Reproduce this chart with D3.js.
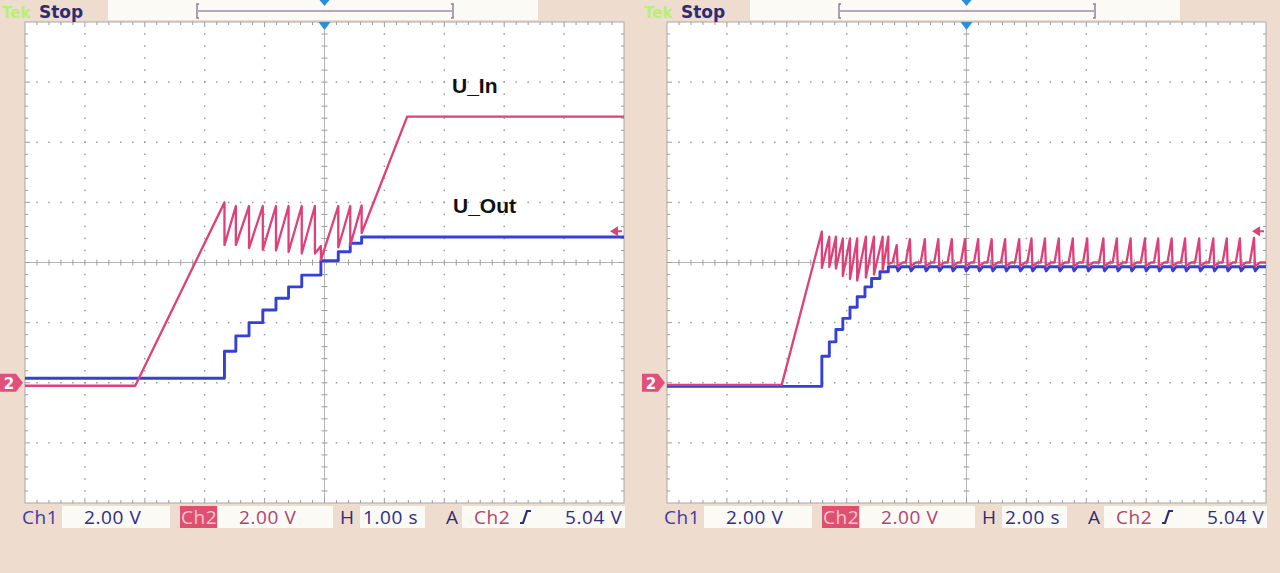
<!DOCTYPE html>
<html>
<head>
<meta charset="utf-8">
<script src="https://cdn.jsdelivr.net/npm/d3@7"></script>
<style>
  body { margin: 0; background: #eedccf; }
  svg { display: block; }
</style>
</head>
<body>
<svg id="scope" width="1280" height="573"></svg>
<script>
// ---- values (time in s, level in V) ----

// left capture, 1.00 s/div
const leftInPts = [
  [0, -0.1], [1.84, -0.1], [3.33, 6.0], [3.33, 4.58], [3.52, 5.88], [3.52, 4.58],
  [3.74, 5.88], [3.74, 4.48], [3.97, 5.88], [3.97, 4.42], [4.19, 5.88], [4.19, 4.4],
  [4.40, 5.88], [4.40, 4.35], [4.62, 5.88], [4.62, 4.3], [4.84, 5.88], [4.84, 4.3],
  [4.94, 4.55], [4.94, 4.08], [5.23, 5.88], [5.23, 4.5], [5.43, 5.88], [5.43, 4.58],
  [5.62, 5.9], [5.62, 4.98], [6.38, 8.85], [10, 8.85]
];
const leftOutTimes  = [0, 3.33, 3.52, 3.74, 3.97, 4.19, 4.40, 4.62, 4.94, 5.23, 5.43, 5.62];
const leftOutLevels = [0.15, 1.05, 1.56, 2.0, 2.42, 2.81, 3.19, 3.58, 4.06, 4.36, 4.64, 4.85];

// right capture, 2.00 s/div
const rightInPts = [
  [0, -0.07], [3.83, -0.07], [5.17, 5.03], [5.17, 3.82], [5.42, 4.86], [5.42, 3.85],
  [5.64, 4.86], [5.64, 3.8], [5.87, 4.8], [5.87, 3.55], [6.11, 4.8], [6.11, 3.45],
  [6.35, 4.8], [6.35, 3.4], [6.64, 4.86], [6.64, 3.5], [6.91, 4.86], [6.91, 3.6],
  [7.20, 4.86], [7.20, 3.75], [7.39, 4.86], [7.39, 3.95]
];
const rightSpikeTimes = [7.67, 8.11, 8.61, 9.06, 9.51, 9.95, 10.39, 10.84, 11.29, 11.76,
  12.17, 12.62, 13.08, 13.55, 14.03, 14.57, 15.02, 15.48, 15.96, 16.40, 16.85, 17.30,
  17.77, 18.24, 18.69, 19.13, 19.60];
const rightSpikePeaks = [4.58, 4.78, 4.78, 4.78, 4.78, 4.78, 4.78, 4.78, 4.78, 4.78,
  4.8, 4.8, 4.8, 4.8, 4.8, 4.8, 4.8, 4.8, 4.8, 4.8, 4.8, 4.8, 4.8, 4.8, 4.8, 4.8, 4.82];
const rightInBase = 4.0;
const rightOutTimes  = [0, 5.17, 5.42, 5.64, 5.87, 6.11, 6.35, 6.61, 6.83, 7.11, 7.39];
const rightOutLevels = [-0.12, 0.88, 1.36, 1.77, 2.14, 2.51, 2.86, 3.19, 3.47, 3.69, 3.86];

const trigLevel = 5.04;
const leftStatus  = ["Ch1", "2.00 V", "Ch2", "2.00 V", "H", "1.00 s", "A", "Ch2", "5.04 V"];
const rightStatus = ["Ch1", "2.00 V", "Ch2", "2.00 V", "H", "2.00 s", "A", "Ch2", "5.04 V"];

// ---- build traces ----
function stepsToPts(times, levels, tEnd) {
  const pts = [];
  times.forEach((t, i) => {
    pts.push([t, i ? levels[i - 1] : levels[0]]);
    pts.push([t, levels[i]]);
  });
  pts.push([tEnd, levels[levels.length - 1]]);
  return pts;
}

const leftOut = stepsToPts(leftOutTimes, leftOutLevels, 10);

const rightIn = rightInPts.slice();
rightSpikeTimes.forEach((t, i) => {
  rightIn.push([t - 0.14, rightInBase], [t, rightSpikePeaks[i]],
               [t + 0.03, rightInBase - 0.12], [t + 0.2, rightInBase]);
});
rightIn.push([20, rightInBase]);

const rightOut = stepsToPts(rightOutTimes, rightOutLevels, 7.5);
rightOut.pop();
const outEnd = rightOutLevels[rightOutLevels.length - 1];
rightSpikeTimes.forEach(t => {
  rightOut.push([t, outEnd], [t + 0.04, outEnd - 0.14], [t + 0.15, outEnd]);
});
rightOut.push([20, outEnd]);

// ---- drawing ----
const svg = d3.select('#scope');
const PINK = '#e0407a', BLUE = '#3440d6';
const plotW = 599, plotH = 481, plotTop = 22;

function drawPanel(cfg) {
  const x0 = cfg.x0;
  const g = svg.append('g');
  const x = d3.scaleLinear().domain([0, cfg.span]).range([x0, x0 + plotW]);
  const y = d3.scaleLinear().domain([-4, 12]).range([plotTop + plotH, plotTop]);
  const divX = plotW / 10, divY = plotH / 8;

  g.append('rect').attr('x', x0).attr('y', plotTop).attr('width', plotW).attr('height', plotH)
    .attr('fill', '#ffffff').attr('stroke', '#a8a8a8').attr('stroke-width', 1);

  // dotted graticule
  const dots = [];
  for (let i = 1; i < 10; i++) {
    if (i === 5) continue;
    for (let j = 1; j < 40; j++) dots.push([x0 + i * divX, plotTop + j * divY / 5]);
  }
  for (let i = 1; i < 8; i++) {
    if (i === 4) continue;
    for (let j = 1; j < 50; j++) dots.push([x0 + j * divX / 5, plotTop + i * divY]);
  }
  g.append('g').selectAll('rect').data(dots).join('rect')
    .attr('x', d => d[0] - 0.75).attr('y', d => d[1] - 0.75)
    .attr('width', 1.5).attr('height', 1.5).attr('fill', '#9a9a9a');

  // centre cross and edge rulers with minor ticks
  const cx = x0 + 5 * divX, cy = plotTop + 4 * divY;
  g.append('line').attr('x1', x0).attr('x2', x0 + plotW).attr('y1', cy).attr('y2', cy)
    .attr('stroke', '#b4b4b4');
  g.append('line').attr('x1', cx).attr('x2', cx).attr('y1', plotTop).attr('y2', plotTop + plotH)
    .attr('stroke', '#b4b4b4');
  const ticks = [];
  for (let j = 1; j < 50; j++) {
    const tx = x0 + j * divX / 5, len = j % 5 ? 3 : 5;
    ticks.push([tx, cy - 3, tx, cy + 3]);
    ticks.push([tx, plotTop, tx, plotTop + len]);
    ticks.push([tx, plotTop + plotH, tx, plotTop + plotH - len]);
  }
  for (let j = 1; j < 40; j++) {
    const ty = plotTop + j * divY / 5, len = j % 5 ? 3 : 5;
    ticks.push([cx - 3, ty, cx + 3, ty]);
    ticks.push([x0, ty, x0 + len, ty]);
    ticks.push([x0 + plotW, ty, x0 + plotW - len, ty]);
  }
  g.append('g').selectAll('line').data(ticks).join('line')
    .attr('x1', d => d[0]).attr('y1', d => d[1]).attr('x2', d => d[2]).attr('y2', d => d[3])
    .attr('stroke', '#9c9c9c').attr('stroke-width', 1);

  // traces
  const clipId = 'clip' + cfg.id;
  svg.append('clipPath').attr('id', clipId).append('rect')
    .attr('x', x0).attr('y', plotTop).attr('width', plotW).attr('height', plotH);
  const line = d3.line().x(d => x(d[0])).y(d => y(d[1]));
  const tr = g.append('g').attr('clip-path', `url(#${clipId})`)
    .attr('fill', 'none').attr('stroke-linejoin', 'round');
  tr.append('path').attr('d', line(cfg.out)).attr('stroke', BLUE).attr('stroke-width', 2.9);
  tr.append('path').attr('d', line(cfg.inp)).attr('stroke', PINK).attr('stroke-width', 2.3);

  // trigger position marker (top) and level arrow (right)
  g.append('path').attr('d', `M${cx - 6},${plotTop} L${cx + 6},${plotTop} L${cx},${plotTop + 8} Z`)
    .attr('fill', '#2a8fd8');
  const ty = y(trigLevel);
  const ax = x0 + plotW - 2;
  g.append('path').attr('d', `M${ax - 12},${ty} L${ax - 4},${ty - 5} L${ax - 4},${ty + 5} Z M${ax - 5},${ty - 1} h5 v2 h-5 Z`)
    .attr('fill', PINK);

  // channel 2 ground marker
  const gy = y(0);
  const mx = x0 - 25;
  g.append('path')
    .attr('d', `M${mx},${gy - 9} L${mx + 16},${gy - 9} L${mx + 23},${gy} L${mx + 16},${gy + 9} L${mx},${gy + 9} Z`)
    .attr('fill', '#e0507a');
  g.append('text').attr('x', mx + 9).attr('y', gy + 6).attr('text-anchor', 'middle')
    .attr('font-family', 'DejaVu Sans, sans-serif').attr('font-size', 15).attr('font-weight', 'bold')
    .attr('fill', '#ffffff').text('2');

  // header
  const h = svg.append('g').attr('font-family', 'DejaVu Sans, sans-serif').attr('font-weight', 'bold');
  h.append('text').attr('x', x0 - 23).attr('y', 18).attr('font-size', 15)
    .attr('fill', '#b8f070').text('Tek');
  h.append('text').attr('x', x0 + 14).attr('y', 18).attr('font-size', 17)
    .attr('fill', '#2e2c72').text('Stop');
  h.append('rect').attr('x', x0 + 83).attr('y', 0).attr('width', 430).attr('height', 20).attr('fill', '#fbfaf4');
  const bl = x0 + 172, br = x0 + 428;
  h.append('path').attr('d', `M${bl + 2},4 h-2 v14 h2 M${br - 2},4 h2 v14 h-2 M${bl},11 H${br}`)
    .attr('fill', 'none').attr('stroke', '#8a7a8e').attr('stroke-width', 1.4);
  h.append('line').attr('x1', bl).attr('x2', br).attr('y1', 11).attr('y2', 11)
    .attr('stroke', '#b8a6c0').attr('stroke-width', 2);
  h.append('path').attr('d', `M${cx - 5},0 L${cx + 5},0 L${cx},6 Z`).attr('fill', '#2a8fd8');

  // status bar
  const s = svg.append('g').attr('font-family', 'Open Sans, sans-serif').attr('font-size', 19)
    .attr('letter-spacing', 0.6);
  const sy = 524;
  const boxes = [[x0 + 37, 108], [x0 + 193, 115], [x0 + 335, 65], [x0 + 437, 163]];
  boxes.forEach(b => s.append('rect').attr('x', b[0]).attr('y', 506).attr('width', b[1]).attr('height', 22)
    .attr('fill', '#fbfaf4'));
  s.append('rect').attr('x', x0 + 155).attr('y', 506).attr('width', 37).attr('height', 22).attr('fill', '#e0506e');
  const st = cfg.status;
  const items = [
    [x0 - 3, st[0], '#3b3aa6'], [x0 + 59, st[1], '#2e2c86'], [x0 + 156, st[2], '#f8c8d4'],
    [x0 + 214, st[3], '#b04470'], [x0 + 315, st[4], '#2e2c72'], [x0 + 338, st[5], '#2e2c86'],
    [x0 + 421, st[6], '#2e2c72'], [x0 + 449, st[7], '#b04470'], [x0 + 540, st[8], '#2e2c86']
  ];
  s.selectAll('text.st').data(items).join('text').attr('class', 'st')
    .attr('x', d => d[0]).attr('y', sy).attr('fill', d => d[2]).text(d => d[1]);
  // rising edge glyph
  s.append('path').attr('d', `M${x0 + 495},${sy - 1} h3 L${x0 + 502},${sy - 13} h4`)
    .attr('fill', 'none').attr('stroke', '#2e2c72').attr('stroke-width', 2.2);

  return { x, y };
}

drawPanel({ id: 'L', x0: 25, span: 10, inp: leftInPts, out: leftOut, status: leftStatus });
drawPanel({ id: 'R', x0: 667, span: 20, inp: rightIn, out: rightOut, status: rightStatus });

// trace labels on the left capture
svg.append('g').attr('font-family', 'Liberation Sans, Arial, sans-serif').attr('font-weight', 'bold')
  .attr('font-size', 21).attr('fill', '#111')
  .selectAll('text').data([['U_In', 452, 93], ['U_Out', 453, 213]]).join('text')
  .attr('x', d => d[1]).attr('y', d => d[2]).text(d => d[0]);
</script>
</body>
</html>
